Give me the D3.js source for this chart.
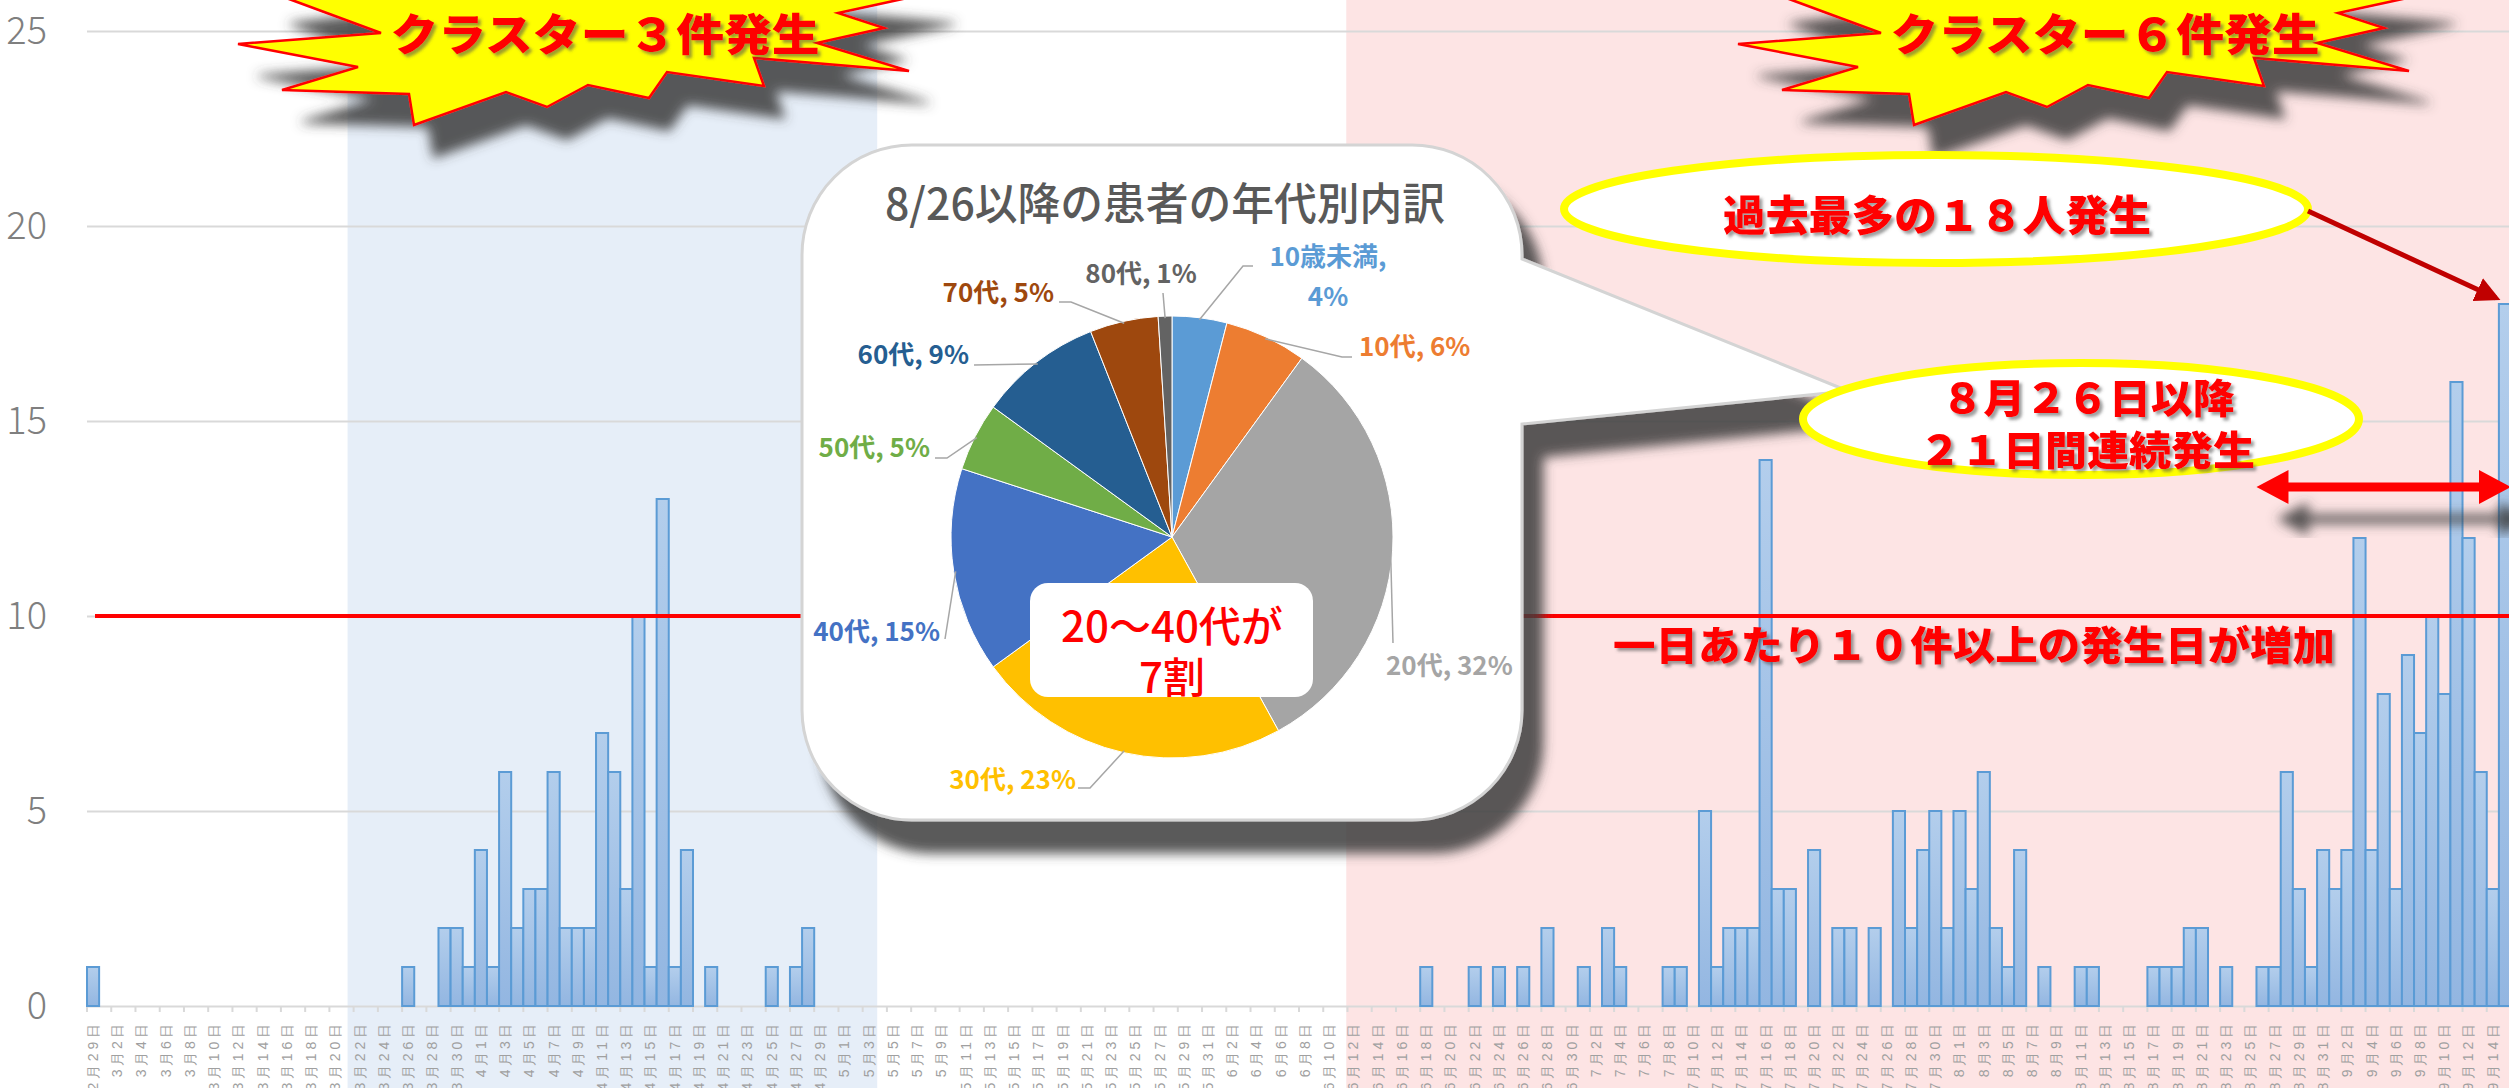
<!DOCTYPE html>
<html>
<head>
<meta charset="utf-8">
<script src="https://cdn.jsdelivr.net/npm/d3@7"></script>
<style>
  body{margin:0;background:#ffffff;overflow:hidden;}
  svg{display:block;font-family:"Noto Sans CJK JP","Noto Sans",sans-serif;}
</style>
</head>
<body>
<svg id="graph"></svg>
<script>
// daily new cases, 2/29 .. 9/15 (one array per month)
var casesFeb = [1]
var casesMar = [0,0,0,0,0,0,0,0,0,0, 0,0,0,0,0,0,0,0,0,0, 0,0,0,0,0,1,0,0,2,2, 1]
var casesApr = [4,1,6,2,3,3,6,2,2,2, 7,6,3,10,1,13,1,4,0,1, 0,0,0,0,1,0,1,2,0,0]
var casesMay = [0,0,0,0,0,0,0,0,0,0, 0,0,0,0,0,0,0,0,0,0, 0,0,0,0,0,0,0,0,0,0, 0]
var casesJun = [0,0,0,0,0,0,0,0,0,0, 0,0,0,0,0,0,0,1,0,0, 0,1,0,1,0,1,0,2,0,0]
var casesJul = [1,0,2,1,0,0,0,1,1,0, 5,1,2,2,2,14,3,3,0,4, 0,2,2,0,2,0,5,2,4,5, 2]
var casesAug = [5,3,6,2,1,4,0,1,0,0, 1,1,0,0,0,0,1,1,1,2, 2,0,1,0,0,1,1,6,3,1, 4]
var casesSep = [3,4,12,4,8,3,9,7,10,8, 16,12,6,3,18]
var cases = [].concat(casesFeb,casesMar,casesApr,casesMay,casesJun,casesJul,casesAug,casesSep)

var days = d3.timeDay.range(new Date(2020,1,29), new Date(2020,8,16))
var yTicks = [0,5,10,15,20,25]
var threshold = 10

// shaded periods (in day index units)
var clusterPeriods = [[21.5,65.2],[103.9,200]]
var streakDays = [179,200]   // 8/26 .. 9/15

// pie: ages of patients since 8/26
var ageGroups = ["10歳未満","10代","20代","30代","40代","50代","60代","70代","80代"]
var agePct = [4,6,32,23,15,5,9,5,1]
var ageColors = ["#5b9bd5","#ed7d31","#a5a5a5","#ffc000","#4472c4","#70ad47","#255e91","#9e480e","#636363"]

// ---- layout ----
var screen = {width:2509,height:1088}
var plot = {left:87,top:31,bottom:1006,step:12.12}
var pieCenter = {x:1172,y:537}, pieR = 221
// label position (rel. to pie center), anchor, leader start, elbow
var pieLabels = [
  {dx:156,dy:-280,anchor:"middle",lx:81,ly:-271,ex:71},
  {dx:187,dy:-190,anchor:"start",lx:180,ly:-180,ex:170},
  {dx:214,dy:129,anchor:"start",lx:221,ly:106,ex:221},
  {dx:-96,dy:243,anchor:"end",lx:-94,ly:251,ex:-82},
  {dx:-232,dy:95,anchor:"end",lx:-227,ly:102,ex:-227},
  {dx:-242,dy:-89,anchor:"end",lx:-237,ly:-79,ex:-225},
  {dx:-203,dy:-182,anchor:"end",lx:-198,ly:-172,ex:-198},
  {dx:-118,dy:-244,anchor:"end",lx:-113,ly:-235,ex:-101},
  {dx:-31,dy:-263,anchor:"middle",lx:-9,ly:-244,ex:-9}
]
var burstShape = [[270,-8],[381,33],[238,44],[358,67],[282,90],[409,94],[414,125],[506,92],[547,107],
  [588,85],[649,98],[667,72],[764,86],[754,58],[909,71],[817,43],[884,28],[838,13],[935,-8],[700,-30],[450,-30]]

var svg = d3.select("#graph").attr("width",screen.width).attr("height",screen.height)
var defs = svg.append("defs")

var grad = defs.append("linearGradient").attr("id","barFill")
    .attr("x1",0).attr("y1",0).attr("x2",0).attr("y2",1)
grad.append("stop").attr("offset","0%").attr("stop-color","#b3ceec")
grad.append("stop").attr("offset","100%").attr("stop-color","#93b6e1")

var makeShadow = function(id,dx,dy,sd,color,op){
    var f = defs.append("filter").attr("id",id)
        .attr("x","-30%").attr("y","-60%").attr("width","170%").attr("height","260%")
    f.append("feDropShadow").attr("dx",dx).attr("dy",dy).attr("stdDeviation",sd)
        .attr("flood-color",color).attr("flood-opacity",op)
}
makeShadow("bigShadow",20,32,6,"#3c3c3c",0.85)
makeShadow("textShadow",3,3,1.5,"#505050",0.55)

var m = defs.append("marker").attr("id","arrowHead").attr("viewBox","0 0 10 10")
    .attr("refX",8).attr("refY",5).attr("markerWidth",5).attr("markerHeight",5).attr("orient","auto")
m.append("path").attr("d","M0,0 L10,5 L0,10 z").attr("fill","#c00000")

var x = d3.scaleBand().domain(d3.range(cases.length))
    .range([plot.left, plot.left+plot.step*cases.length]).padding(0)
var y = d3.scaleLinear().domain([0,25]).range([plot.bottom,plot.top])
var xAt = function(i){ return plot.left + i*x.step() }

// shaded periods
svg.append("g").selectAll("rect").data(clusterPeriods).enter().append("rect")
    .attr("x",function(d){return xAt(d[0])})
    .attr("width",function(d){return xAt(d[1])-xAt(d[0])})
    .attr("y",0).attr("height",screen.height)
    .attr("fill",function(d,i){return i==0 ? "#e6eef8" : "#fde4e4"})

// grid
var grid = svg.append("g").attr("transform","translate("+plot.left+",0)")
    .call(d3.axisLeft(y).tickValues(yTicks.slice(1)).tickSize(-(screen.width-plot.left)).tickFormat(""))
grid.select(".domain").remove()
grid.selectAll("line").attr("stroke","#d9d9d9").attr("stroke-width",2)

// y labels
var yAx = svg.append("g").attr("transform","translate("+plot.left+",0)")
    .call(d3.axisLeft(y).tickValues(yTicks).tickSize(0).tickPadding(40))
yAx.select(".domain").remove()
yAx.selectAll("text").attr("font-size",38).attr("font-weight",300).attr("fill","#7f7f7f")
    .attr("font-family","'Noto Sans CJK JP',sans-serif")

// x axis
var fmt = d3.timeFormat("%-m月%-d日")
var xAx = svg.append("g").attr("transform","translate(0,"+plot.bottom+")")
    .call(d3.axisBottom(x).tickValues(d3.range(0,cases.length,2)).tickSize(6).tickSizeOuter(0)
        .tickFormat(function(i){return fmt(days[i])}))
xAx.select(".domain").attr("stroke","#d9d9d9").attr("stroke-width",2)
xAx.selectAll(".tick line").attr("x1",-x.bandwidth()/2).attr("x2",-x.bandwidth()/2)
    .attr("stroke","#d9d9d9").attr("stroke-width",2)
xAx.selectAll(".tick text").attr("transform","rotate(-90)").attr("text-anchor","end")
    .attr("x",-18).attr("y",0).attr("dy","0.35em")
    .attr("font-size",14).attr("fill","#a0a0a0").attr("font-weight",300)
    .attr("textLength",function(){return this.textContent.length*13.3})
    .attr("lengthAdjust","spacing")

// bars
svg.append("g").selectAll("rect")
    .data(cases.map(function(v,i){return {i:i,v:v}}).filter(function(d){return d.v>0}))
    .enter().append("rect")
    .attr("x",function(d){return x(d.i)})
    .attr("width",x.bandwidth())
    .attr("y",function(d){return y(d.v)})
    .attr("height",function(d){return y(0)-y(d.v)})
    .attr("fill","url(#barFill)")
    .attr("stroke","#5b9bd5").attr("stroke-width",2)

// threshold line
svg.append("line").attr("x1",95).attr("x2",screen.width)
    .attr("y1",y(threshold)).attr("y2",y(threshold))
    .attr("stroke","#ff0000").attr("stroke-width",4)

var redText = function(g,txt,tx,ty,size,len,anchor){
    return g.append("text").text(txt).attr("x",tx).attr("y",ty)
        .attr("dominant-baseline","central").attr("text-anchor",anchor||"middle")
        .attr("font-size",size).attr("font-weight",900).attr("fill","#ff0000")
        .attr("textLength",len).attr("lengthAdjust","spacingAndGlyphs")
        .attr("filter","url(#textShadow)")
}

// starbursts
var notes = svg.append("g")
var bursts = [{shift:0,label:"クラスター３件発生"},{shift:1500,label:"クラスター６件発生"}]
bursts.forEach(function(b){
    var g = notes.append("g").attr("transform","translate("+b.shift+",0)")
    g.append("path").attr("d",d3.line()(burstShape)+"Z")
        .attr("fill","#ffff00").attr("stroke","#ff0000").attr("stroke-width",2.5)
        .attr("stroke-linejoin","miter").attr("filter","url(#bigShadow)")
    redText(g,b.label,605,32,44,429)
})

redText(notes,"一日あたり１０件以上の発生日が増加",1613,643,40,722,"start")

// callout with pie
var bx = {l:802,t:145,r:1522,b:820,rad:110,p1:259,p2:424,tipX:1848,tipY:391}
var calloutPath = "M"+(bx.l+bx.rad)+","+bx.t+" H"+(bx.r-bx.rad)
    +" A"+bx.rad+","+bx.rad+" 0 0 1 "+bx.r+","+(bx.t+bx.rad)
    +" V"+bx.p1+" L"+bx.tipX+","+bx.tipY+" L"+bx.r+","+bx.p2
    +" V"+(bx.b-bx.rad)+" A"+bx.rad+","+bx.rad+" 0 0 1 "+(bx.r-bx.rad)+","+bx.b
    +" H"+(bx.l+bx.rad)+" A"+bx.rad+","+bx.rad+" 0 0 1 "+bx.l+","+(bx.b-bx.rad)
    +" V"+(bx.t+bx.rad)+" A"+bx.rad+","+bx.rad+" 0 0 1 "+(bx.l+bx.rad)+","+bx.t+" Z"
notes.append("path").attr("d",calloutPath).attr("fill","#ffffff")
    .attr("stroke","#d4d4d4").attr("stroke-width",3).attr("filter","url(#bigShadow)")

notes.append("text").text("8/26以降の患者の年代別内訳")
    .attr("x",1165).attr("y",201).attr("text-anchor","middle").attr("dominant-baseline","central")
    .attr("font-size",44).attr("font-weight",500).attr("fill","#595959")
    .attr("textLength",560).attr("lengthAdjust","spacingAndGlyphs")

var ages = ageGroups.map(function(a,i){return {name:a,pct:agePct[i],color:ageColors[i],pos:pieLabels[i]}})
var pieG = notes.append("g").attr("transform","translate("+pieCenter.x+","+pieCenter.y+")")
var arcs = d3.pie().sort(null).value(function(d){return d.pct})(ages)
var arc = d3.arc().innerRadius(0).outerRadius(pieR)
pieG.selectAll("path").data(arcs).enter().append("path")
    .attr("d",arc).attr("fill",function(d){return d.data.color})
    .attr("stroke","#ffffff").attr("stroke-width",1)

pieG.selectAll("polyline").data(arcs).enter().append("polyline")
    .attr("points",function(d){
        var a = (d.startAngle+d.endAngle)/2
        var p = d.data.pos
        return [[p.lx,p.ly],[p.ex,p.ly],[Math.sin(a)*(pieR-2),-Math.cos(a)*(pieR-2)]].join(" ")
    })
    .attr("fill","none").attr("stroke","#a6a6a6").attr("stroke-width",1.5)

pieG.selectAll("text.lbl").data(arcs).enter().append("text").classed("lbl",true)
    .attr("text-anchor",function(d){return d.data.pos.anchor})
    .attr("font-size",26).attr("font-weight",700)
    .attr("fill",function(d){return d.data.color})
    .each(function(d){
        var t = d3.select(this), p = d.data.pos
        if (d.index==0){
            t.append("tspan").attr("x",p.dx).attr("y",p.dy).attr("dy","0.35em").text(d.data.name+",")
            t.append("tspan").attr("x",p.dx).attr("y",p.dy+40).attr("dy","0.35em").text(d.data.pct+"%")
        } else {
            t.append("tspan").attr("x",p.dx).attr("y",p.dy).attr("dy","0.35em")
                .text(d.data.name+", "+d.data.pct+"%")
        }
    })

notes.append("rect").attr("x",1030).attr("y",583).attr("width",283).attr("height",114)
    .attr("rx",18).attr("fill","#ffffff")
notes.append("text").text("20〜40代が").attr("x",1172).attr("y",623)
    .attr("text-anchor","middle").attr("dominant-baseline","central")
    .attr("font-size",42).attr("font-weight",500).attr("fill","#ff0000")
notes.append("text").text("7割").attr("x",1172).attr("y",674)
    .attr("text-anchor","middle").attr("dominant-baseline","central")
    .attr("font-size",42).attr("font-weight",500).attr("fill","#ff0000")

// ellipses
notes.append("ellipse").attr("cx",1936).attr("cy",209).attr("rx",372).attr("ry",54)
    .attr("fill","#ffffff").attr("stroke","#ffff00").attr("stroke-width",8)
redText(notes,"過去最多の１８人発生",1937,212,42,428)

notes.append("ellipse").attr("cx",2081).attr("cy",419).attr("rx",278).attr("ry",56)
    .attr("fill","#ffffff").attr("stroke","#ffff00").attr("stroke-width",8)
redText(notes,"８月２６日以降",2088,396,40,293)
redText(notes,"２１日間連続発生",2087,448,40,336)

// arrow to record day
var last = cases.length-1
notes.append("line").attr("x1",2308).attr("y1",211)
    .attr("x2",x(last)-3).attr("y2",y(cases[last])-6)
    .attr("stroke","#c00000").attr("stroke-width",5).attr("marker-end","url(#arrowHead)")

// double arrow over streak
var ax0 = xAt(streakDays[0]), ax1 = xAt(streakDays[1]), ay = 487, hl = 32, hw = 17, tw = 4.5
var dbl = [[ax0,ay],[ax0+hl,ay-hw],[ax0+hl,ay-tw],[ax1-hl,ay-tw],[ax1-hl,ay-hw],[ax1,ay],
    [ax1-hl,ay+hw],[ax1-hl,ay+tw],[ax0+hl,ay+tw],[ax0+hl,ay+hw]]
notes.append("path").attr("d",d3.line()(dbl)+"Z").attr("fill","#ff0000")
    .attr("filter","url(#bigShadow)")
</script>
</body>
</html>
